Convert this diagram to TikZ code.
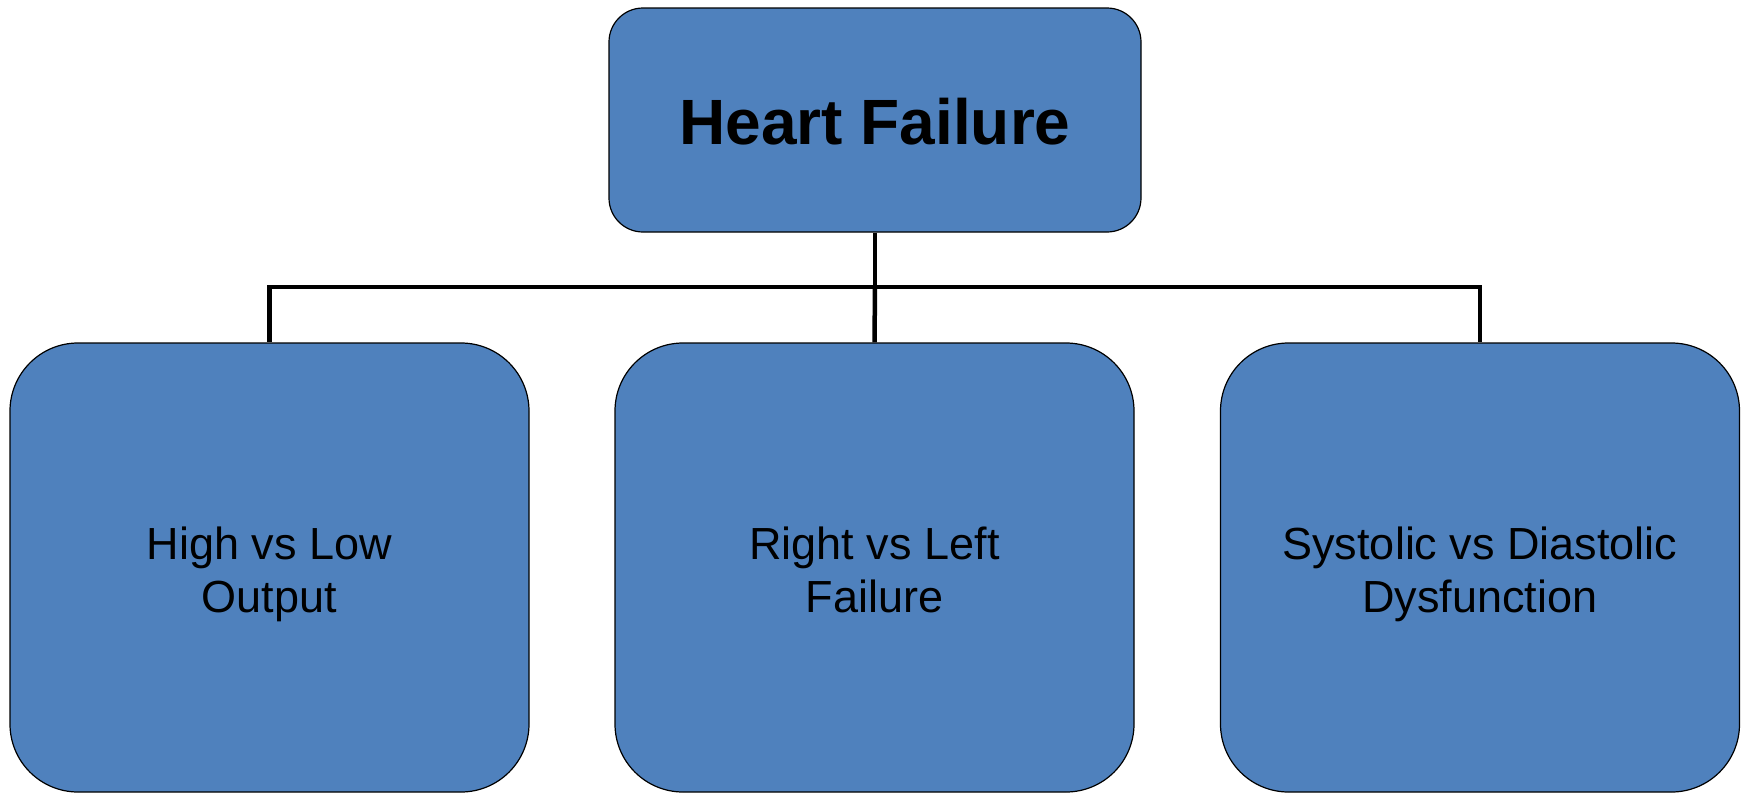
\documentclass[tikz,border=0pt]{standalone}
\usepackage{fontspec}
\setmainfont{Liberation Sans}
\usetikzlibrary{positioning,calc}
\definecolor{boxfill}{HTML}{4F81BD}

\begin{document}
\begin{tikzpicture}[x=0.5pt,y=-0.5pt,
 topbox/.style={draw=black,line width=0.6pt,fill=boxfill,rounded corners=17pt,
   minimum width=266pt,minimum height=112pt},
 subbox/.style={draw=black,line width=0.6pt,fill=boxfill,rounded corners=34pt,
   minimum width=259.5pt,minimum height=224.5pt},
 toptext/.style={align=center,font=\fontsize{32}{36}\selectfont\bfseries},
 subtext/.style={align=center,font=\fontsize{22.5}{26.7}\selectfont,execute at end node=\strut},
 link/.style={line width=2.25pt}]
\useasboundingbox (0,0) rectangle (1747,793);
\node[topbox] (hf) at (875,120) {};
\node[subbox] (output) at (269.5,567.5) {};
\node[subbox] (side) at (874.5,567.5) {};
\node[subbox] (func) at (1480,567.5) {};
% box texts
\node[toptext,yshift=-1pt] (hf-txt) at (hf.center) {Heart Failure};
\node[subtext,yshift=-5pt] (output-txt) at (output.center) {High vs Low\\Output};
\node[subtext,yshift=-5pt] (side-txt) at (side.center) {Right vs Left\\Failure};
\node[subtext,yshift=-5pt] (func-txt) at (func.center) {Systolic vs Diastolic\\Dysfunction};
% tree connectors
\coordinate (bus) at (875,287);
\draw[link] (hf.south) -- (bus);
\draw[link] (bus) -| (output.north);
\draw[link] (bus) -| (func.north);
\draw[link] (bus) -- (side.north);
\end{tikzpicture}
\end{document}
